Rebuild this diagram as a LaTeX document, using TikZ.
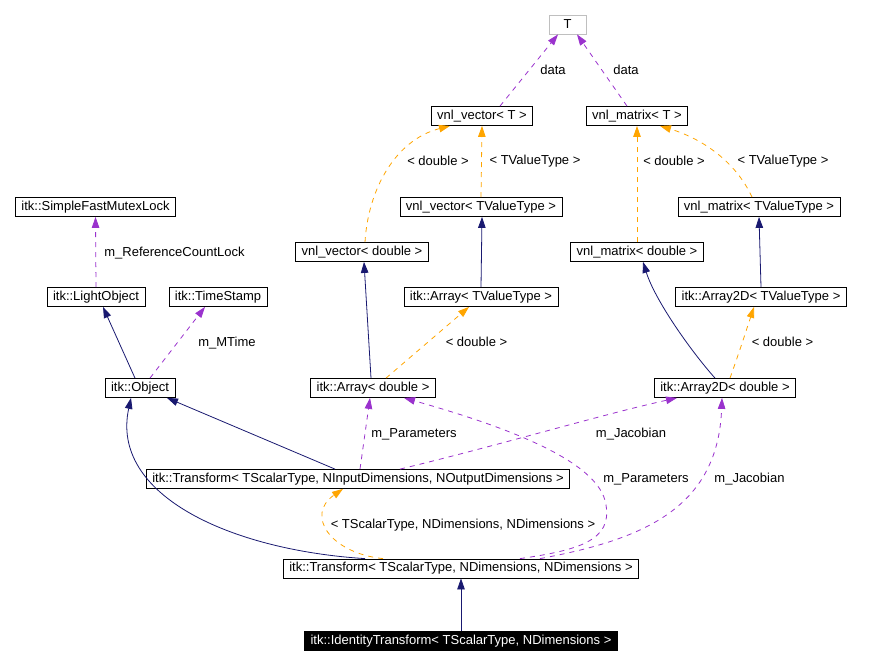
\documentclass[tikz,border=0pt]{standalone}
\usepackage{fontspec}
\setmainfont{Liberation Sans}
\usetikzlibrary{arrows.meta}
\definecolor{inhcol}{HTML}{191970}
\definecolor{tplcol}{HTML}{FFA500}
\definecolor{usecol}{HTML}{9A32CD}
\definecolor{boxgray}{HTML}{BFBFBF}
\tikzset{
  cls/.style={draw, rectangle, line width=0.8pt, minimum height=19pt, inner xsep=6pt, inner ysep=2pt},
  lbl/.style={inner sep=1pt},
  inherit/.style={draw=inhcol, line width=0.8pt, -{Triangle[length=11pt, width=7.5pt]}},
  tmpl/.style={draw=tplcol, line width=0.8pt, dash pattern=on 5pt off 5pt, -{Triangle[length=11pt, width=7.5pt, fill=tplcol]}},
  uses/.style={draw=usecol, line width=0.8pt, dash pattern=on 5pt off 5pt, -{Triangle[length=11pt, width=7.5pt, fill=usecol]}},
}
\begin{document}
\begin{tikzpicture}[x=1pt, y=-1pt, font=\fontsize{13}{15}\selectfont]
\useasboundingbox (0,0) rectangle (896,665);
% classes
\node[cls, draw=boxgray, minimum width=37pt] (t) at (567.5,24.5) {T};
\node[cls] (vvT) at (482,116) {vnl\_vector< T >};
\node[cls] (vmT) at (637,116) {vnl\_matrix< T >};
\node[cls] (sfml) at (95.5,207) {itk::SimpleFastMutexLock};
\node[cls] (vvTV) at (481,207) {vnl\_vector< TValueType >};
\node[cls] (vmTV) at (759,207) {vnl\_matrix< TValueType >};
\node[cls] (vvd) at (362,252) {vnl\_vector< double >};
\node[cls] (vmd) at (637,252) {vnl\_matrix< double >};
\node[cls] (lobj) at (96,297) {itk::LightObject};
\node[cls] (ts) at (218,297) {itk::TimeStamp};
\node[cls] (aTV) at (481,297) {itk::Array< TValueType >};
\node[cls] (a2TV) at (761,297) {itk::Array2D< TValueType >};
\node[cls] (obj) at (140,388) {itk::Object};
\node[cls] (ad) at (373,388) {itk::Array< double >};
\node[cls] (a2d) at (725,388) {itk::Array2D< double >};
\node[cls] (tnio) at (358,479) {itk::Transform< TScalarType, NInputDimensions, NOutputDimensions >};
\node[cls] (tnd) at (461,568.5) {itk::Transform< TScalarType, NDimensions, NDimensions >};
\node[cls, fill=black, text=white] (idt) at (461,641) {itk::IdentityTransform< TScalarType, NDimensions >};
% inheritance
\draw[inherit] ([xshift=-5pt]obj.north) -- ([xshift=7pt]lobj.south);
\draw[inherit] ([xshift=-2pt]ad.north) -- ([xshift=2pt]vvd.south);
\draw[inherit] (aTV.north) -- ([xshift=1pt]vvTV.south);
\draw[inherit] ([xshift=-10pt]a2d.north) .. controls (690,350) and (655,300) .. ([xshift=6pt]vmd.south);
\draw[inherit] (a2TV.north) -- (vmTV.south);
\draw[inherit] ([xshift=-23pt]tnio.north) -- ([xshift=27pt]obj.south);
\draw[inherit] ([xshift=-96pt]tnd.north) .. controls (230,550) and (110,495) .. ([xshift=-9pt]obj.south);
\draw[inherit] (idt.north) -- (tnd.south);
% template instances
\draw[tmpl] ([xshift=3pt]vvd.north) .. controls (368,190) and (395,140) .. ([xshift=-32pt]vvT.south);
\draw[tmpl] (vvTV.north) -- (vvT.south);
\draw[tmpl] (vmd.north) -- (vmT.south);
\draw[tmpl] ([xshift=-7pt]vmTV.north) .. controls (735,160) and (700,138) .. ([xshift=23pt]vmT.south);
\draw[tmpl] ([xshift=13pt]ad.north) -- ([xshift=-12pt]aTV.south);
\draw[tmpl] ([xshift=5pt]a2d.north) .. controls (740,350) and (748,325) .. ([xshift=-7pt]a2TV.south);
\draw[tmpl] ([xshift=-78pt]tnd.north) .. controls (330,553) and (305,515) .. ([xshift=-15pt]tnio.south);
\node[lbl] (l1) at (438,161) {< double >};
\node[lbl] (l2) at (535,161) {< TValueType >};
\node[lbl] (l3) at (674,161) {< double >};
\node[lbl] (l4) at (783,161) {< TValueType >};
\node[lbl] (l5) at (476.5,342) {< double >};
\node[lbl] (l6) at (782.5,342) {< double >};
\node[lbl] (l7) at (463,525) {< TScalarType, NDimensions, NDimensions >};
% members
\draw[uses] ([xshift=18pt]vvT.north) -- ([xshift=-9.5pt]t.south);
\draw[uses] ([xshift=-10pt]vmT.north) -- ([xshift=9.5pt]t.south);
\draw[uses] (lobj.north) -- (sfml.south);
\draw[uses] ([xshift=10pt]obj.north) -- ([xshift=-13pt]ts.south);
\draw[uses] ([xshift=2pt]tnio.north) -- ([xshift=-3pt]ad.south);
\draw[uses] ([xshift=42pt]tnio.north) .. controls (500,445) and (600,415) .. ([xshift=-48pt]a2d.south);
\draw[uses] ([xshift=59pt]tnd.north) .. controls (580,550) and (612,540) .. (606,505) .. controls (600,460) and (500,425) .. ([xshift=31pt]ad.south);
\draw[uses] ([xshift=79pt]tnd.north) .. controls (640,540) and (718,510) .. ([xshift=-3pt]a2d.south);
\node[lbl] (d1) at (553,70) {data};
\node[lbl] (d2) at (626,70) {data};
\node[lbl] (m1) at (174.5,253) {m\_ReferenceCountLock};
\node[lbl] (m2) at (227,343) {m\_MTime};
\node[lbl] (m3) at (414,434) {m\_Parameters};
\node[lbl] (m4) at (631,434) {m\_Jacobian};
\node[lbl] (m5) at (646,479) {m\_Parameters};
\node[lbl] (m6) at (749.5,479) {m\_Jacobian};
\end{tikzpicture}
\end{document}
